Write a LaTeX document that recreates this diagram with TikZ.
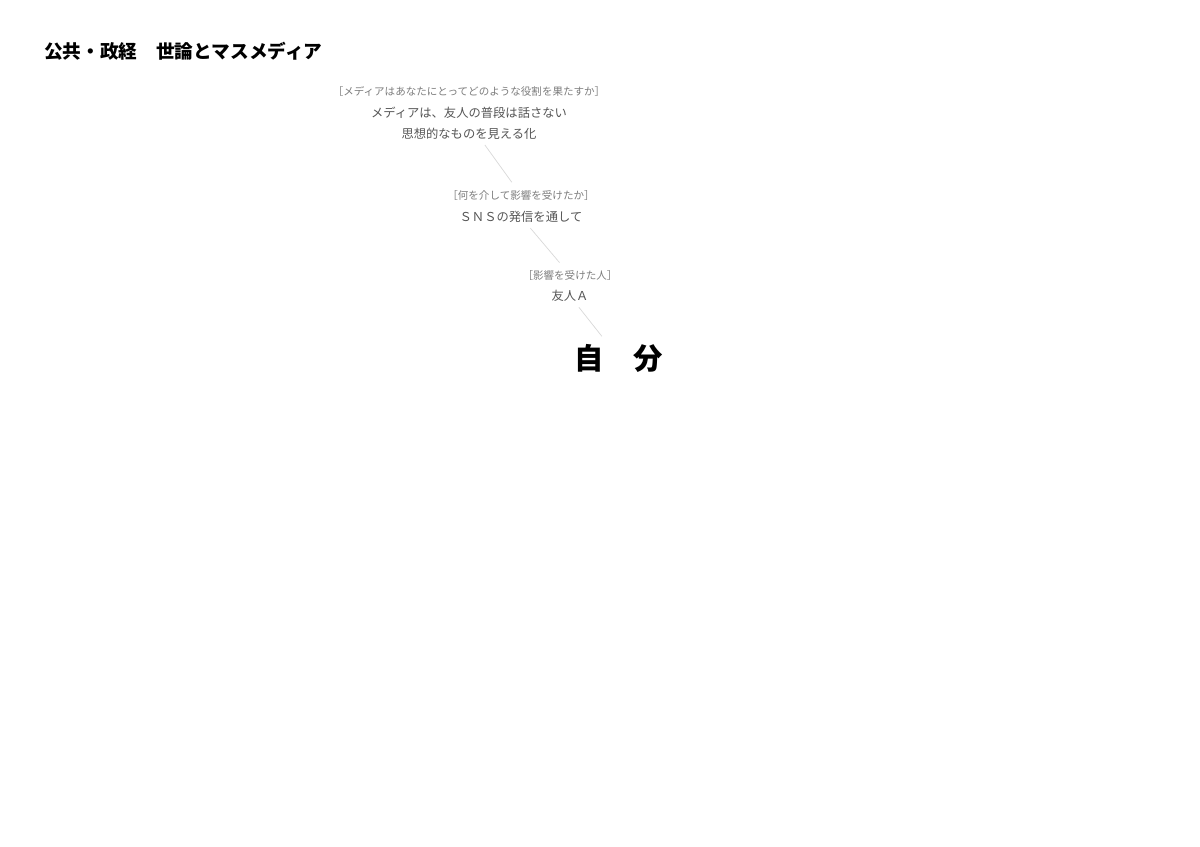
\documentclass[tikz,border=0pt]{standalone}
\usepackage{fontspec}
\usepackage{xcolor}
\setmainfont{Noto Sans CJK JP}
\definecolor{labelgray}{HTML}{7C7C7C}
\definecolor{textgray}{HTML}{555555}
\definecolor{linkgray}{HTML}{D8D8D8}

\tikzset{
  tag/.style={font=\fontsize{6}{7}\selectfont, text=labelgray, inner sep=1pt},
  answer/.style={font=\fontsize{7}{12}\selectfont, text=textgray, align=center, inner sep=1pt},
  link/.style={draw=linkgray, line width=0.4pt, shorten <=2.5pt, shorten >=4pt}
}

\begin{document}
\begin{tikzpicture}[x=0.02cm, y=-0.02cm]
\useasboundingbox (0,0) rectangle (1200,846);

% Title
\node[right, font=\fontsize{10.6}{12}\selectfont\bfseries, inner sep=0pt] (title) at (44,51) {公共・政経　世論とマスメディア};

% Role of the media
\node[tag] (roleq) at (469,91) {［メディアはあなたにとってどのような役割を果たすか］};
\node[answer] (role) at (469,123) {メディアは、友人の普段は話さない\\思想的なものを見える化};

% Through what
\node[tag] (viaq) at (521,195) {［何を介して影響を受けたか］};
\node[answer] (via) at (521,217) {ＳＮＳの発信を通して};

% Who
\node[tag] (whoq) at (570,275) {［影響を受けた人］};
\node[answer] (who) at (570,296) {友人Ａ};

% Self
\node[font=\fontsize{16.7}{18}\selectfont\bfseries, inner sep=1pt] (self) at (619,358) {自　分};

% Connectors
\draw[link] (role) -- (viaq);
\draw[link] (via) -- (whoq);
\draw[link] (who) -- (self);

\end{tikzpicture}
\end{document}
